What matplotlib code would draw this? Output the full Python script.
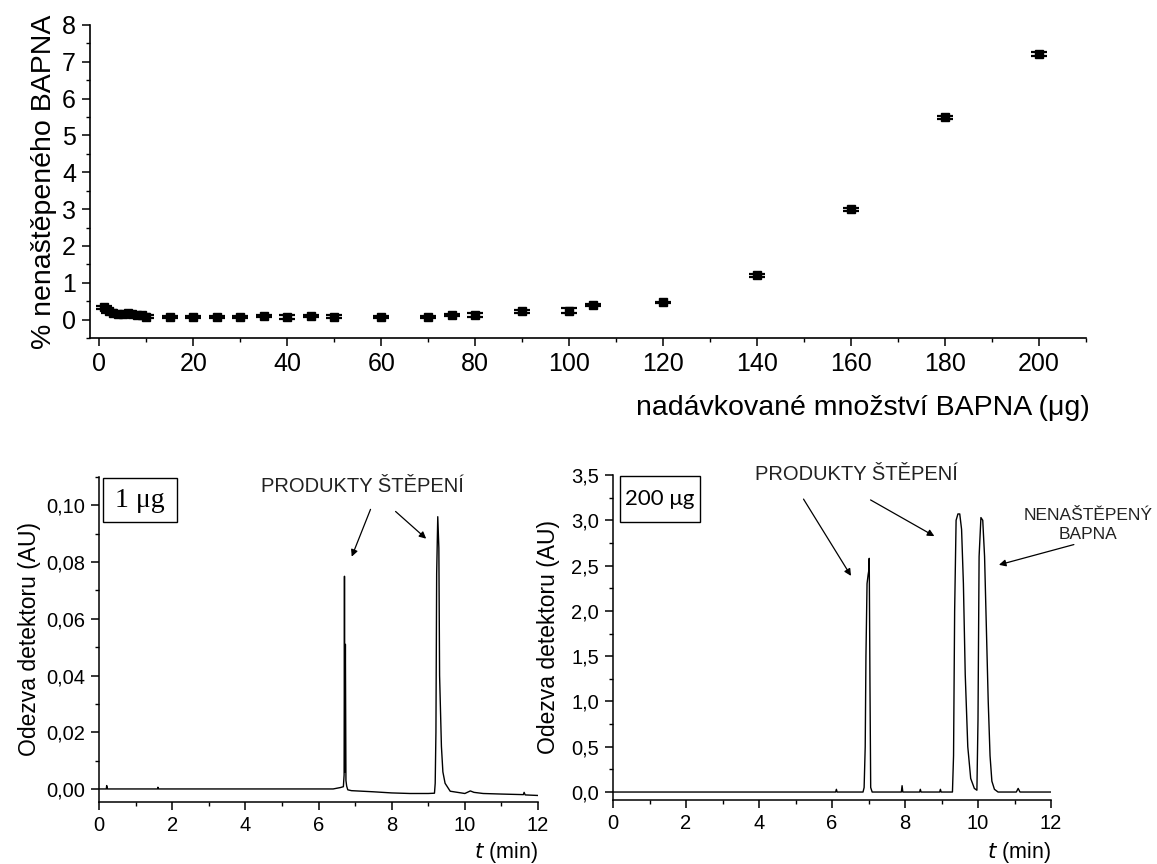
import matplotlib
matplotlib.use("Agg")
import matplotlib.pyplot as plt
from matplotlib.ticker import MultipleLocator, FuncFormatter
from matplotlib.patches import Rectangle

plt.rcParams['font.family'] = ['Liberation Sans', 'DejaVu Sans']

# ---------------- data: top panel ----------------
dose_ug = [1, 2, 3, 4, 5, 6, 7, 8, 9, 10, 15, 20, 25, 30, 35, 40, 45, 50, 60,
           70, 75, 80, 90, 100, 105, 120, 140, 160, 180, 200]
uncleaved_pct = [0.33, 0.22, 0.17, 0.15, 0.15, 0.17, 0.14, 0.13, 0.13, 0.08,
                 0.08, 0.07, 0.07, 0.07, 0.10, 0.07, 0.10, 0.08, 0.08, 0.08,
                 0.13, 0.13, 0.22, 0.24, 0.40, 0.47, 1.20, 3.00, 5.50, 7.22]
uncleaved_err = [0.03, 0.03, 0.02, 0.02, 0.02, 0.02, 0.02, 0.02, 0.03, 0.05,
                 0.03, 0.03, 0.02, 0.03, 0.02, 0.05, 0.03, 0.04, 0.03, 0.03,
                 0.03, 0.06, 0.04, 0.07, 0.02, 0.02, 0.03, 0.04, 0.04, 0.06]

# ---------------- data: chromatogram 1 ug ----------------
t_1ug = [0, 0.20, 0.21, 0.23, 1.60, 1.61, 1.63, 6.40, 6.60, 6.68, 6.70, 6.71,
         6.72, 6.735, 6.75, 6.77, 6.80, 6.90, 7.50, 8.00, 8.50, 9.00, 9.17,
         9.19, 9.21, 9.23, 9.26, 9.29, 9.31, 9.36, 9.40, 9.46, 9.60, 10.00,
         10.10, 10.15, 10.25, 10.50, 11.00, 11.60, 11.62, 11.65, 12.00]
a_1ug = [0, 0, 0.0012, 0, 0, 0.0006, 0, 0, 0.0005, 0.0008, 0.005, 0.075,
         0.006, 0.051, 0.003, 0.001, -0.0003, -0.0006, -0.0010, -0.0014,
         -0.0016, -0.0016, -0.0015, 0.002, 0.02, 0.076, 0.096, 0.085, 0.040,
         0.015, 0.006, 0.002, -0.0008, -0.0016, -0.0010, -0.0007, -0.0012,
         -0.0016, -0.0018, -0.0020, -0.0012, -0.0021, -0.0023]

# ---------------- data: chromatogram 200 ug ----------------
t_200ug = [0, 6.10, 6.12, 6.14, 6.85, 6.88, 6.91, 6.93, 6.96, 6.99, 7.01,
           7.02, 7.04, 7.06, 7.10, 7.90, 7.92, 7.94, 8.40, 8.42, 8.44, 8.95,
           8.97, 8.99, 9.30, 9.33, 9.36, 9.40, 9.45, 9.50, 9.55, 9.60, 9.65,
           9.72, 9.80, 9.90, 9.97, 10.00, 10.03, 10.08, 10.13, 10.18, 10.23,
           10.28, 10.33, 10.38, 10.45, 10.55, 11.05, 11.10, 11.15, 12.00]
a_200ug = [0, 0, 0.03, 0, 0, 0.05, 0.5, 1.5, 2.3, 2.4, 2.45, 2.58, 1.2, 0.05,
           0, 0, 0.07, 0, 0, 0.03, 0, 0, 0.03, 0, 0, 0.4, 2.0, 3.0, 3.07,
           3.07, 2.9, 2.3, 1.3, 0.5, 0.15, 0.04, 0.02, 0.8, 2.6, 3.03, 3.0,
           2.6, 1.8, 1.0, 0.4, 0.12, 0.03, 0.0, 0, 0.04, 0, 0]

W, H = 1157, 864
fig = plt.figure(figsize=(W / 100, H / 100), dpi=100)


def fr(x0, y0, x1, y1):
    return [x0 / W, 1 - y1 / H, (x1 - x0) / W, (y1 - y0) / H]


def style(ax, lw=1.2):
    for s in ('top', 'right'):
        ax.spines[s].set_visible(False)
    for s in ('left', 'bottom'):
        ax.spines[s].set_linewidth(lw)
    ax.tick_params(which='major', direction='out', length=6, width=1.1)
    ax.tick_params(which='minor', direction='out', length=3, width=1.0)


# ---------------- top panel ----------------
ax0 = fig.add_axes(fr(90, 25, 1086, 338))
style(ax0)
ax0.errorbar(dose_ug, uncleaved_pct, yerr=uncleaved_err, fmt='s', color='black',
             markersize=5.5, capsize=5.5, capthick=1.6, elinewidth=1.4)
ax0.set_xlim(-2, 210)
ax0.set_ylim(-0.5, 8)
ax0.xaxis.set_major_locator(MultipleLocator(20))
ax0.xaxis.set_minor_locator(MultipleLocator(10))
ax0.yaxis.set_major_locator(MultipleLocator(1))
ax0.yaxis.set_minor_locator(MultipleLocator(0.5))
ax0.tick_params(labelsize=18, pad=4)
ax0.set_ylabel('% nenaštěpeného BAPNA', fontsize=20.5, labelpad=4)
fig.text(1090 / W, 1 - 408 / H, 'nadávkované množství BAPNA (μg)',
         ha='right', va='center', fontsize=20.5)

narrow = ['Liberation Sans Narrow', 'Liberation Sans', 'DejaVu Sans']
arrow = dict(arrowstyle='-|>', color='black', lw=0.9, mutation_scale=10)

# ---------------- bottom-left panel ----------------
ax1 = fig.add_axes(fr(99, 477, 538, 802))
style(ax1, 1.1)
ax1.plot(t_1ug, a_1ug, color='black', lw=1.0)
ax1.set_xlim(0, 12)
ax1.set_ylim(-0.0046, 0.11)
ax1.xaxis.set_major_locator(MultipleLocator(2))
ax1.xaxis.set_minor_locator(MultipleLocator(1))
ax1.yaxis.set_major_locator(MultipleLocator(0.02))
ax1.yaxis.set_minor_locator(MultipleLocator(0.01))
ax1.yaxis.set_major_formatter(FuncFormatter(lambda v, p: f'{v:.2f}'.replace('.', ',')))
ax1.tick_params(labelsize=14.5, pad=4)
ax1.set_ylabel('Odezva detektoru (AU)', fontsize=16.5, labelpad=4)
ax1.text(1.0, -0.172, '$t$ (min)', transform=ax1.transAxes, ha='right',
         va='baseline', fontsize=15.5)
ax1.add_patch(Rectangle((0.009, 0.862), 0.169, 0.135, transform=ax1.transAxes,
                        fc='white', ec='black', lw=1.0, clip_on=False, zorder=3))
ax1.text(0.0934, 0.929, '1 μg', fontsize=20, family=['Liberation Serif', 'DejaVu Serif'],
         ha='center', va='center', transform=ax1.transAxes, zorder=4)
ax1.text(7.2, 0.1067, 'PRODUKTY ŠTĚPENÍ', ha='center', va='center',
         fontsize=14.5, family=narrow, color='#222222')
ax1.annotate('', xy=(6.88, 0.081), xytext=(7.45, 0.0995), arrowprops=arrow)
ax1.annotate('', xy=(9.0, 0.0876), xytext=(8.05, 0.0985), arrowprops=arrow)

# ---------------- bottom-right panel ----------------
ax2 = fig.add_axes(fr(613, 475, 1051, 800))
style(ax2, 1.1)
ax2.plot(t_200ug, a_200ug, color='black', lw=1.0)
ax2.set_xlim(0, 12)
ax2.set_ylim(-0.088, 3.5)
ax2.xaxis.set_major_locator(MultipleLocator(2))
ax2.xaxis.set_minor_locator(MultipleLocator(1))
ax2.yaxis.set_major_locator(MultipleLocator(0.5))
ax2.yaxis.set_minor_locator(MultipleLocator(0.25))
ax2.yaxis.set_major_formatter(FuncFormatter(lambda v, p: f'{v:.1f}'.replace('.', ',')))
ax2.tick_params(labelsize=14.5, pad=4)
ax2.set_ylabel('Odezva detektoru (AU)', fontsize=16.5, labelpad=8)
ax2.text(1.0, -0.178, '$t$ (min)', transform=ax2.transAxes, ha='right',
         va='baseline', fontsize=15.5)
ax2.add_patch(Rectangle((0.016, 0.855), 0.183, 0.142, transform=ax2.transAxes,
                        fc='white', ec='black', lw=1.0, clip_on=False, zorder=3))
ax2.text(0.107, 0.926, '200 μg', fontsize=16, family=['Lato', 'DejaVu Sans'],
         ha='center', va='center', transform=ax2.transAxes, zorder=4)
ax2.text(6.68, 3.50, 'PRODUKTY ŠTĚPENÍ', ha='center', va='center',
         fontsize=14.5, family=narrow, color='#222222', clip_on=False)
ax2.text(13.01, 2.95, 'NENAŠTĚPENÝ\nBAPNA', ha='center', va='center',
         fontsize=12.5, family=narrow, color='#222222', clip_on=False,
         linespacing=1.3)
ax2.annotate('', xy=(6.56, 2.36), xytext=(5.18, 3.26), arrowprops=arrow)
ax2.annotate('', xy=(8.87, 2.81), xytext=(6.99, 3.24), arrowprops=arrow)
ax2.annotate('', xy=(10.5, 2.50), xytext=(12.7, 2.74), arrowprops=arrow,
             annotation_clip=False)

fig.savefig('out.png', dpi=100)
